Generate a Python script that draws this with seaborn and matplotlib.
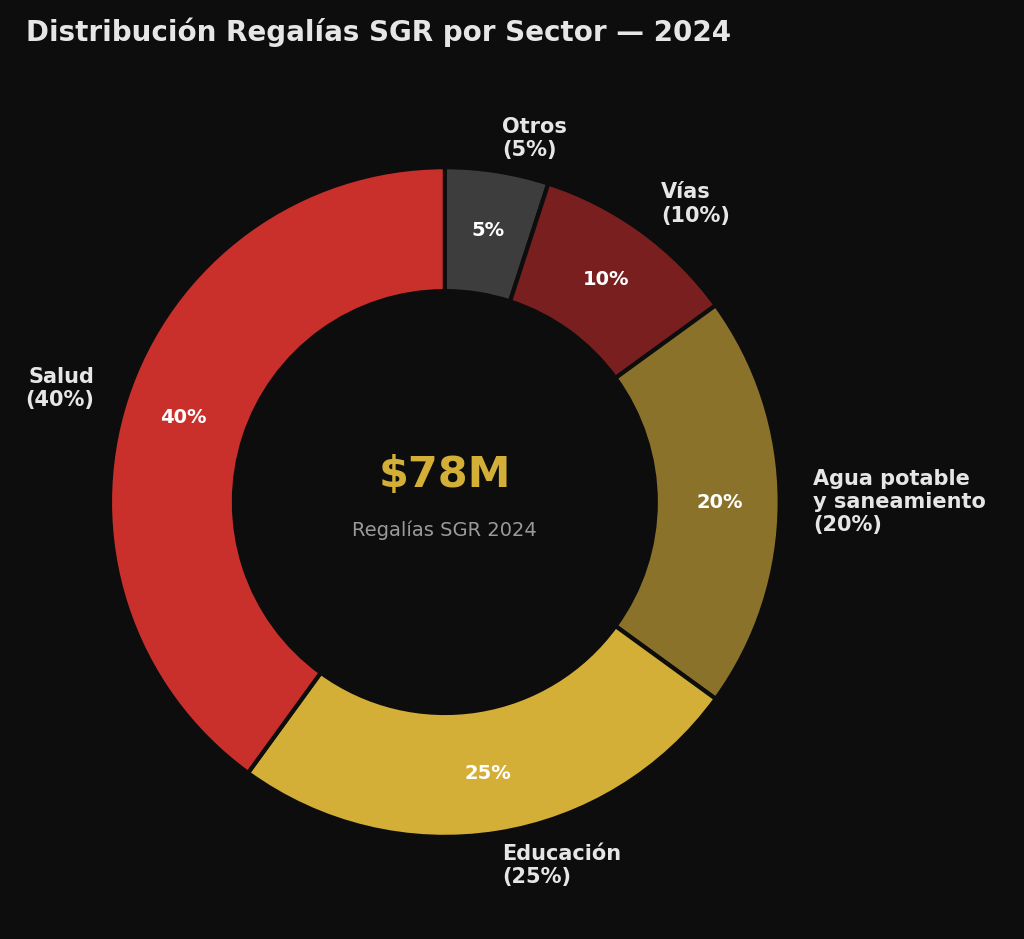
import matplotlib
matplotlib.use("Agg")
import matplotlib.pyplot as plt
import seaborn as sns

sectors = ["Otros", "Vías", "Agua potable\ny saneamiento", "Educación", "Salud"]
shares = [5, 10, 20, 25, 40]
colors = ["#3d3d3d", "#7a1f1f", "#8b722b", "#d4af37", "#c9302c"]
total_label = "\\$78M"
subtitle = "Regalías SGR 2024"

sns.set_theme(style="dark")
plt.rcParams['font.family'] = ['DejaVu Sans']
bg = "#0d0d0d"

fig = plt.figure(figsize=(10.24, 9.39), dpi=100, facecolor=bg)
ax = fig.add_axes([0.1074, 0.1086, 0.654, 0.7135])
ax.set_facecolor(bg)

labels = [f"{s}\n({v}%)" for s, v in zip(sectors, shares)]
wedges, texts, autotexts = ax.pie(
    shares, labels=labels, colors=colors, startangle=90, counterclock=False,
    autopct="%d%%", pctdistance=0.82, labeldistance=1.1,
    wedgeprops=dict(width=0.37, edgecolor=bg, linewidth=3),
    textprops=dict(color="#e6e6e6", fontsize=15, fontweight="bold"))
for t in autotexts:
    t.set_color("white")
    t.set_fontsize(14)
ax.set_xlim(-1, 1)
ax.set_ylim(-1, 1)
ax.set_aspect("equal")

ax.text(0, 0.08, total_label, ha="center", va="center", color="#d4af37",
        fontsize=31, fontweight="bold")
ax.text(0, -0.085, subtitle, ha="center", va="center", color="#9a9a9a", fontsize=14)

fig.text(0.025, 0.966, "Distribución Regalías SGR por Sector — 2024", ha="left", va="center",
         color="#e6e6e6", fontsize=20, fontweight="bold")

fig.savefig("out.png", dpi=100, facecolor=bg)
